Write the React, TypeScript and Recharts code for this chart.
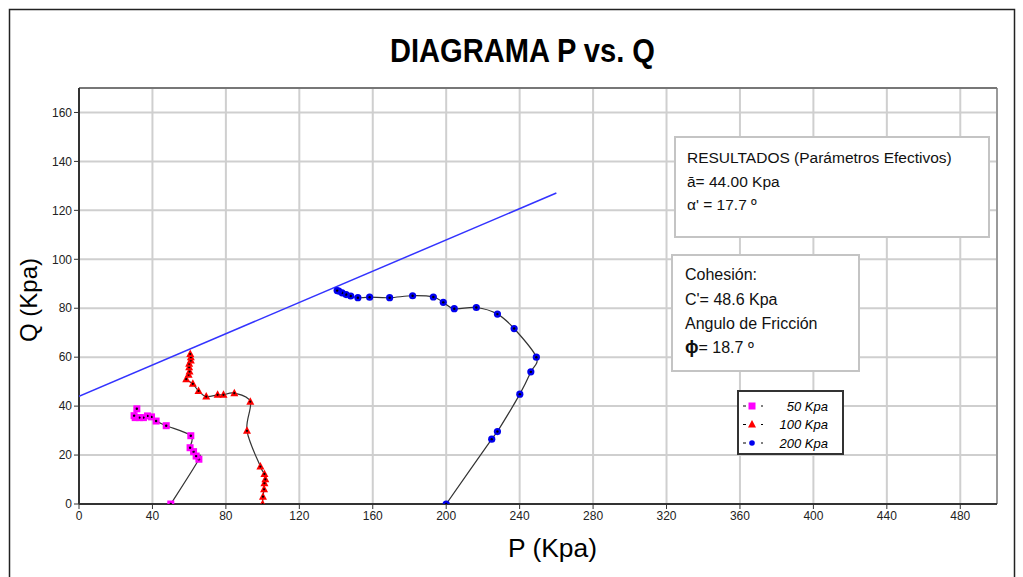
import React from 'react';
import { ComposedChart, Scatter, XAxis, YAxis, CartesianGrid, ReferenceLine, Legend } from 'recharts';

const pTicks = [0, 40, 80, 120, 160, 200, 240, 280, 320, 360, 400, 440, 480];
const qTicks = [0, 20, 40, 60, 80, 100, 120, 140, 160];

const series50 = [
  { p: 50, q: 0 }, { p: 65.3, q: 18.3 }, { p: 63.8, q: 19.6 }, { p: 62.4, q: 21.4 },
  { p: 60.5, q: 23 }, { p: 60.9, q: 27.9 }, { p: 47.5, q: 32 }, { p: 42, q: 33.9 },
  { p: 39.5, q: 35.6 }, { p: 37.3, q: 36 }, { p: 35.1, q: 35.3 }, { p: 32.9, q: 35.3 },
  { p: 30.6, q: 35.3 }, { p: 30, q: 36.1 }, { p: 31.5, q: 38.9 },
];

const series100 = [
  { p: 100, q: 0 }, { p: 100.2, q: 3 }, { p: 100.8, q: 6 }, { p: 101, q: 8.5 },
  { p: 101.5, q: 10.1 }, { p: 101, q: 12.3 }, { p: 98.8, q: 15.3 }, { p: 91.5, q: 29.9 },
  { p: 93.3, q: 41.8 }, { p: 84.6, q: 45.3 }, { p: 78.7, q: 44.6 }, { p: 75.5, q: 44.6 },
  { p: 69.3, q: 43.9 }, { p: 65.1, q: 46.2 }, { p: 62, q: 49.1 }, { p: 58.4, q: 51 },
  { p: 59.7, q: 52.8 }, { p: 60.2, q: 54.1 }, { p: 60, q: 55.9 }, { p: 60, q: 57.3 },
  { p: 60.9, q: 58.6 }, { p: 60.9, q: 60 }, { p: 60.6, q: 61.3 },
];

const series200 = [
  { p: 200, q: 0 }, { p: 224.8, q: 26.5 }, { p: 227.9, q: 29.6 }, { p: 240.1, q: 44.9 },
  { p: 246.1, q: 54 }, { p: 249.1, q: 60 }, { p: 237, q: 71.7 }, { p: 227.9, q: 77.6 },
  { p: 216.4, q: 80.3 }, { p: 204.4, q: 79.8 }, { p: 198.4, q: 82.4 }, { p: 193, q: 84.6 },
  { p: 181.7, q: 85.1 }, { p: 169.2, q: 84.3 }, { p: 158.3, q: 84.5 }, { p: 151.9, q: 84.3 },
  { p: 148, q: 85 }, { p: 145.5, q: 85.6 }, { p: 143.3, q: 86.3 }, { p: 141.5, q: 87 },
  { p: 140.6, q: 87.2 },
];

const envelope = [{ p: 0, q: 44 }, { p: 260, q: 127.1 }];

const legendItems = [
  { label: '50 Kpa', color: '#FF00FF', kind: 'square' },
  { label: '100 Kpa', color: '#FF0000', kind: 'triangle' },
  { label: '200 Kpa', color: '#0000EE', kind: 'circle' },
];

const FONT = "'Liberation Sans', Arial, sans-serif";

// Catmull-Rom style smoothing (like a spreadsheet "smoothed line")
const smoothCurve = (context: any) => {
  let pts: number[][] = [];
  return {
    areaStart() {},
    areaEnd() {},
    lineStart() {
      pts = [];
    },
    point(x: number, y: number) {
      pts.push([+x, +y]);
    },
    lineEnd() {
      const n = pts.length;
      if (!n) return;
      context.moveTo(pts[0][0], pts[0][1]);
      for (let i = 0; i < n - 1; i++) {
        const p0 = pts[Math.max(i - 1, 0)];
        const p1 = pts[i];
        const p2 = pts[i + 1];
        const p3 = pts[Math.min(i + 2, n - 1)];
        const c1x = p1[0] + (p2[0] - p0[0]) / 6;
        const c1y = p1[1] + (p2[1] - p0[1]) / 6;
        const c2x = p2[0] - (p3[0] - p1[0]) / 6;
        const c2y = p2[1] - (p3[1] - p1[1]) / 6;
        context.bezierCurveTo(c1x, c1y, c2x, c2y, p2[0], p2[1]);
      }
    },
  };
};

const SquareShape = (props: any) => {
  const { cx, cy } = props;
  if (cx == null || cy == null) return <g />;
  return (
    <g>
      <rect x={cx - 3.5} y={cy - 3.5} width={7} height={7} fill="#FF00FF" />
      <circle cx={cx} cy={cy} r={1.2} fill="#000" />
    </g>
  );
};

const TriangleShape = (props: any) => {
  const { cx, cy } = props;
  if (cx == null || cy == null) return <g />;
  return (
    <g>
      <path d={`M${cx},${cy - 4.5} L${cx + 4},${cy + 3} L${cx - 4},${cy + 3} Z`} fill="#FF0000" />
      <circle cx={cx} cy={cy} r={1.1} fill="#000" />
    </g>
  );
};

const CircleShape = (props: any) => {
  const { cx, cy } = props;
  if (cx == null || cy == null) return <g />;
  return (
    <g>
      <circle cx={cx} cy={cy} r={3.6} fill="#0000EE" />
      <circle cx={cx} cy={cy} r={1.2} fill="#000" />
    </g>
  );
};

const NoShape = () => <g />;

const LegendBox = () => (
  <div
    style={{
      width: 107,
      height: 65,
      border: '2px solid #333',
      background: '#fff',
      boxSizing: 'border-box',
      position: 'relative',
    }}
  >
    <svg width={107} height={65} style={{ position: 'absolute', left: -2, top: -2 }}>
      {legendItems.map((it, i) => {
        const y = 16 + i * 18.5;
        return (
          <g key={it.label}>
            <line x1={6} x2={26} y1={y} y2={y} stroke="#000" strokeWidth={1.2} strokeDasharray="3 6" />
            <rect x={9} y={y - 4} width={12} height={8} fill="#fff" />
            {it.kind === 'square' && <rect x={11.5} y={y - 3.5} width={7} height={7} fill={it.color} />}
            {it.kind === 'triangle' && (
              <path d={`M${15},${y - 4.5} L${19},${y + 3} L${11},${y + 3} Z`} fill={it.color} />
            )}
            {it.kind === 'circle' && <circle cx={15} cy={y} r={2.8} fill={it.color} />}
            <text
              x={91}
              y={y + 4.5}
              textAnchor="end"
              fontStyle="italic"
              fontSize={13}
              fontFamily={FONT}
              fill="#000"
            >
              {it.label}
            </text>
          </g>
        );
      })}
    </svg>
  </div>
);

export default function App() {
  return (
    <div style={{ position: 'absolute', left: 0, top: 0, width: 1023, height: 577, background: '#fff' }}>
      <ComposedChart
        width={1023}
        height={577}
        margin={{ top: 88, right: 26, bottom: 43, left: 39 }}
      >
        <CartesianGrid stroke="#cfcfcf" strokeWidth={2} />
        <XAxis
          type="number"
          dataKey="p"
          domain={[0, 500]}
          ticks={pTicks}
          interval={0}
          height={30}
          allowDataOverflow
          axisLine={{ stroke: '#333', strokeWidth: 2 }}
          tickLine={{ stroke: '#333' }}
          tickSize={5}
          tick={{ fontSize: 12, fill: '#222', fontFamily: FONT }}
        />
        <YAxis
          type="number"
          dataKey="q"
          domain={[0, 170]}
          ticks={qTicks}
          interval={0}
          width={40}
          allowDataOverflow
          axisLine={{ stroke: '#333', strokeWidth: 2 }}
          tickLine={{ stroke: '#333' }}
          tickSize={5}
          tick={{ fontSize: 12, fill: '#222', fontFamily: FONT }}
        />
        <ReferenceLine x={500} stroke="#888" strokeWidth={1.5} />
        <ReferenceLine y={170} stroke="#777" strokeWidth={2} />
        <Scatter
          name="envelope"
          data={envelope}
          line={{ stroke: '#3333FF', strokeWidth: 1.5 }}
          shape={NoShape}
          isAnimationActive={false}
          legendType="none"
        />
        <Scatter
          name="50 Kpa"
          data={series50}
          line={{ stroke: '#333', strokeWidth: 1.2 }}
          lineJointType={smoothCurve as any}
          shape={SquareShape}
          fill="#FF00FF"
          isAnimationActive={false}
        />
        <Scatter
          name="100 Kpa"
          data={series100}
          line={{ stroke: '#333', strokeWidth: 1.2 }}
          lineJointType={smoothCurve as any}
          shape={TriangleShape}
          fill="#FF0000"
          isAnimationActive={false}
        />
        <Scatter
          name="200 Kpa"
          data={series200}
          line={{ stroke: '#333', strokeWidth: 1.2 }}
          lineJointType={smoothCurve as any}
          shape={CircleShape}
          fill="#0000EE"
          isAnimationActive={false}
        />
        <Legend
          layout="horizontal"
          verticalAlign="middle"
          align="center"
          content={<LegendBox />}
          wrapperStyle={{ position: 'absolute', left: 737, top: 390, width: 107, height: 65 }}
        />
      </ComposedChart>

      <svg
        width={1023}
        height={577}
        style={{ position: 'absolute', left: 0, top: 0, pointerEvents: 'none' }}
      >
        <rect x={9.5} y={9.5} width={1005} height={600} fill="none" stroke="#222" strokeWidth={1.5} />
        <text
          x={390}
          y={62}
          fontSize={34}
          fontWeight="bold"
          fontFamily={FONT}
          fill="#000"
          textLength={265}
          lengthAdjust="spacingAndGlyphs"
        >
          DIAGRAMA P vs. Q
        </text>
        <text
          x={508}
          y={557}
          fontSize={26}
          fontFamily={FONT}
          fill="#000"
          textLength={89}
          lengthAdjust="spacingAndGlyphs"
        >
          P  (Kpa)
        </text>
        <text
          x={0}
          y={0}
          transform="translate(37,300) rotate(-90)"
          textAnchor="middle"
          fontSize={24}
          fontFamily={FONT}
          fill="#000"
        >
          Q (Kpa)
        </text>

        <rect x={675} y={137} width={314} height={100} fill="#fff" stroke="#c4c4c4" strokeWidth={2} />
        <g fontFamily={FONT} fontSize={15.5} fill="#111">
          <text x={687} y={163}>RESULTADOS (Parámetros Efectivos)</text>
          <text x={687} y={187}>ā=  44.00 Kpa</text>
          <text x={687} y={210}>α' =  17.7 º</text>
        </g>

        <rect x={672} y={255} width={187} height={116} fill="#fff" stroke="#c4c4c4" strokeWidth={2} />
        <g fontFamily={FONT} fontSize={16} fill="#111">
          <text x={685} y={280}>Cohesión:</text>
          <text x={685} y={305}>C'=  48.6 Kpa</text>
          <text x={685} y={329}>Angulo de Fricción</text>
          <text x={685} y={353}>
            <tspan fontWeight="bold" fontSize={18}>ϕ</tspan>
            <tspan>=  18.7 º</tspan>
          </text>
        </g>
      </svg>
    </div>
  );
}
